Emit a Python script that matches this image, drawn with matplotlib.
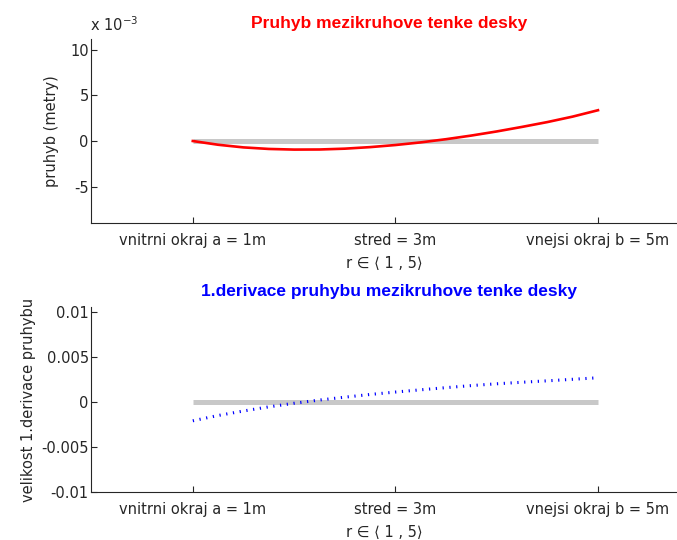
import numpy as np
import matplotlib
matplotlib.use("Agg")
import matplotlib.pyplot as plt

# values (r in m)
r = [1.0, 1.25, 1.5, 1.75, 2.0, 2.25, 2.5, 2.75, 3.0, 3.25, 3.5, 3.75,
     4.0, 4.25, 4.5, 4.75, 5.0]
pruhyb = [0.0, -0.41e-3, -0.70e-3, -0.87e-3, -0.94e-3, -0.93e-3, -0.84e-3,
          -0.67e-3, -0.44e-3, -0.15e-3, 0.20e-3, 0.60e-3, 1.05e-3, 1.55e-3,
          2.08e-3, 2.68e-3, 3.38e-3]
derivace = [-2.07e-3, -1.48e-3, -0.98e-3, -0.52e-3, -0.12e-3, 0.24e-3,
            0.56e-3, 0.86e-3, 1.13e-3, 1.38e-3, 1.62e-3, 1.85e-3, 2.05e-3,
            2.22e-3, 2.38e-3, 2.55e-3, 2.72e-3]
nula_r = [1, 5]
nula = [0, 0]

xticks = [1, 3, 5]
xticklabels = ['vnitrni okraj a = 1m', 'stred = 3m', 'vnejsi okraj b = 5m']
yticks_top = [-5e-3, 0, 5e-3, 10e-3]
yticklabels_top = ['-5', '0', '5', '10']
yticks_bot = [-0.01, -0.005, 0, 0.005, 0.01]
yticklabels_bot = ['-0.01', '-0.005', '0', '0.005', '0.01']

plt.rcParams['font.family'] = ['DejaVu Sans']
plt.rcParams['font.size'] = 10.5

W, H = 677, 540
fig = plt.figure(figsize=(W / 100, H / 100), dpi=100)

def px_axes(left, top, right, bottom):
    return fig.add_axes([left / W, 1 - bottom / H, (right - left) / W,
                         (bottom - top) / H])

ax1 = px_axes(91.5, 39, 677, 223)
ax2 = px_axes(91.5, 307, 677, 492)

title_font = dict(family=['Liberation Sans', 'DejaVu Sans'],
                  fontweight='bold', fontsize=12.5)

for ax in (ax1, ax2):
    ax.plot(nula_r, nula, color='#c8c8c8', lw=3.6, solid_capstyle='butt')
    ax.set_xlim(0, 5.78)
    ax.set_xticks(xticks)
    ax.set_xticklabels(xticklabels)
    ax.spines['top'].set_visible(False)
    ax.spines['right'].set_visible(False)
    for s in ('left', 'bottom'):
        ax.spines[s].set_linewidth(0.8)
        ax.spines[s].set_color('#262626')
    ax.tick_params(direction='in', length=4.5, width=0.8, color='#262626',
                   labelcolor='#262626')
    ax.tick_params(axis='x', pad=7)
    ax.tick_params(axis='y', pad=2)
    ax.set_xlabel('r \u2208 \u27e8 1 , 5\u27e9', labelpad=6, color='#262626')

ax1.plot(r, pruhyb, color='#ff0000', lw=1.9)
ax1.set_ylim(-9e-3, 11.2e-3)
ax1.set_yticks(yticks_top)
ax1.set_yticklabels(yticklabels_top)
ax1.set_ylabel('pruhyb (metry)', labelpad=8, color='#262626')
ax1.set_title('Pruhyb mezikruhove tenke desky', color='#ff0000', pad=8,
              x=0.508, **title_font)
fig.text(90 / W, 1 - 31 / H, r'x 10$^{\mathregular{-3}}$', color='#262626',
         ha='left', va='baseline')

ax2.plot(r, derivace, color='#0000ff', lw=2.2, dash_capstyle='butt',
         linestyle=(0, (0.4, 1.83)))
ax2.set_ylim(-0.01, 0.0106)
ax2.set_yticks(yticks_bot)
ax2.set_yticklabels(yticklabels_bot)
ax2.set_ylabel('velikost 1.derivace pruhybu', labelpad=4, color='#262626')
ax2.set_title('1.derivace pruhybu mezikruhove tenke desky', color='#0000ff',
              pad=8, x=0.508, **title_font)

fig.savefig('out.png', dpi=100)
